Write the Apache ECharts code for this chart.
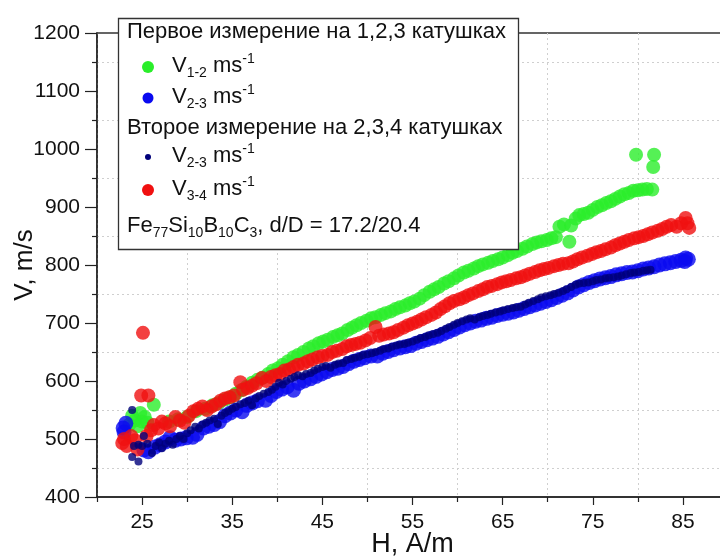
<!DOCTYPE html>
<html>
<head>
<meta charset="utf-8">
<script src="https://cdn.jsdelivr.net/npm/echarts@6/dist/echarts.min.js"></script>
<style>
html,body{margin:0;padding:0;background:#fff;}
#chart{width:720px;height:556px;}
</style>
</head>
<body>
<div id="chart"></div>
<script>
// ---- tick labels ----
var xTickLabels = [25, 35, 45, 55, 65, 75, 85];
var yTickLabels = [400, 500, 600, 700, 800, 900, 1000, 1100, 1200];

// ---- series: first measurement, V1-2 (green) ----
var firstV12 = [
 [23.6,525],[23.9,540],[24.2,532],[24.5,522],[24.8,545],[25.0,530],[25.3,538],[25.6,528],[26.3,559],
 [28.0,530],[29.0,534],[30.0,538],[31.0,548],[32.0,552],[32.8,558],[33.5,562],[34.2,568],[34.8,572],
 [35.4,578],[36.0,584],[36.6,590],[37.2,597],[37.8,602],[38.4,606],[39.0,612],[39.5,618],[40.1,622],
 [40.6,628],[41.2,634],[41.8,641],[42.3,645],[42.9,650],[43.5,656],[44.0,660],[44.6,665],[45.1,668],
 [45.6,671],[46.2,676],[46.7,679],[47.2,682],[47.8,688],[48.3,692],[48.8,696],[49.3,700],[49.9,704],
 [50.4,708],[50.9,710],[51.5,714],[52.0,717],[52.6,720],[53.1,724],[53.6,727],[54.2,730],[54.7,734],
 [55.2,737],[55.8,742],[56.3,748],[56.9,754],[57.4,758],[57.9,762],[58.5,768],[59.0,772],[59.6,777],
 [60.1,782],[60.7,787],[61.2,790],[61.8,794],[62.3,798],[62.8,801],[63.4,804],[63.9,807],[64.5,810],
 [65.0,813],[65.6,817],[66.1,821],[66.6,824],[67.2,828],[67.7,832],[68.3,836],[68.8,839],[69.3,841],
 [69.9,843],[70.4,846],[70.9,848],[71.3,866],[71.8,870],[72.4,840],[72.6,868],[73.1,880],[73.5,886],
 [74.0,888],[74.5,890],[75.0,895],[75.5,900],[76.0,903],[76.5,907],[77.0,910],[77.5,914],[78.0,918],
 [78.5,922],[79.0,924],[79.5,928],[80.0,929],[80.5,930],[81.0,931],[81.6,930],
 [79.8,990],[81.8,990],[81.7,969]
];

// ---- series: first measurement, V2-3 (blue) ----
var firstV23 = [
 [22.9,519],[23.2,527],[23.0,512],[25.2,481],[25.7,478],[26.4,486],[27.0,490],[27.6,495],[28.1,502],
 [28.7,498],[29.3,500],[29.9,502],[30.6,503],[31.1,508],[31.8,519],[32.4,522],[33.0,525],[33.6,530],
 [34.2,540],[34.8,545],[35.4,550],[36.1,547],[36.6,558],[37.2,562],[37.8,566],[38.7,567],[39.3,575],
 [39.9,582],[40.5,586],[41.1,590],[41.8,584],[42.4,596],[43.0,600],[43.7,604],[44.3,608],[44.9,612],
 [45.5,616],[46.1,620],[46.7,622],[47.3,625],[47.9,630],[48.5,634],[49.1,637],[49.7,640],[50.4,643],
 [51.1,643],[51.7,648],[52.3,651],[52.9,654],[53.6,657],[54.2,659],[54.8,661],[55.4,665],[56.0,668],
 [56.6,671],[57.2,674],[57.8,677],[58.4,681],[59.0,685],[59.6,689],[60.2,693],[60.8,697],[61.4,700],
 [62.0,703],[62.6,705],[63.2,708],[63.8,710],[64.4,713],[65.0,715],[65.6,717],[66.2,719],[66.8,722],
 [67.4,725],[68.0,728],[68.6,731],[69.2,734],[69.8,737],[70.4,740],[71.0,744],[71.6,748],[72.2,752],
 [72.8,757],[73.4,762],[74.0,766],[74.6,770],[75.2,773],[75.8,776],[76.4,778],[77.0,780],[77.6,783],
 [78.2,785],[78.8,787],[79.4,788],[80.0,790],[80.6,793],[81.2,795],[81.8,797],[82.4,800],[83.0,802],
 [83.6,804],[84.2,806],[84.8,808],[85.3,812],[85.6,810],[85.2,806]
];

// ---- series: second measurement, V3-4 (red) ----
var secondV34 = [
 [22.8,493],[23.0,500],[23.3,488],[23.8,505],[24.2,498],[24.5,482],[24.9,575],[25.1,683],[25.7,575],
 [25.5,505],[26.0,515],[26.3,524],[26.8,518],[27.2,530],[27.6,527],[28.1,522],[28.7,538],[29.2,532],
 [29.7,528],[30.2,540],[30.7,548],[31.2,552],[31.7,556],[32.2,550],[32.7,556],[33.2,560],[33.7,566],
 [34.2,570],[34.7,572],[35.2,575],[35.9,598],[36.2,585],[36.7,588],[37.2,592],[37.7,596],[38.3,605],
 [38.8,600],[39.3,607],[39.8,610],[40.3,612],[40.8,618],[41.3,620],[41.8,624],[42.3,628],[42.9,630],
 [43.4,634],[43.9,637],[44.5,641],[45.0,643],[45.6,645],[46.1,650],[46.6,652],[47.2,655],[47.7,660],
 [48.2,662],[48.7,664],[49.2,666],[49.8,670],[50.3,674],[50.9,693],[51.3,678],[51.8,680],[52.4,682],
 [52.9,684],[53.4,688],[54.0,692],[54.5,696],[55.0,699],[55.5,702],[56.0,706],[56.5,710],[57.1,714],
 [57.6,718],[58.1,724],[58.6,729],[59.1,734],[59.6,738],[60.2,741],[60.7,744],[61.2,748],[61.7,751],
 [62.3,755],[62.8,758],[63.3,762],[63.8,764],[64.4,767],[64.9,770],[65.4,772],[65.9,774],[66.5,777],
 [67.0,779],[67.5,782],[68.0,785],[68.6,788],[69.1,791],[69.6,793],[70.1,795],[70.7,798],[71.2,800],
 [71.7,802],[72.3,803],[72.8,806],[73.3,810],[73.8,813],[74.4,816],[74.9,819],[75.4,822],[75.9,824],
 [76.4,827],[77.0,830],[77.5,834],[78.0,837],[78.5,840],[79.0,843],[79.6,846],[80.1,848],[80.6,850],
 [81.1,853],[81.6,856],[82.2,859],[82.7,862],[83.2,866],[83.7,869],[84.3,866],[84.8,872],[85.3,881],
 [85.7,864],[85.5,872]
];

// ---- series: second measurement, V2-3 (navy, small) ----
var secondV23 = [
 [23.9,550],[23.9,469],[24.6,461],[24.1,488],[24.6,490],[25.2,505],[25.0,488],[25.6,492],[26.1,476],
 [26.5,488],[26.9,494],[27.2,484],[27.6,492],[28.0,497],[28.4,490],[28.8,500],[29.2,505],[29.6,500],
 [30.0,510],[30.4,515],[30.9,521],[31.3,518],[31.7,525],[32.1,528],[32.5,532],[33.0,535],[33.4,526],
 [33.8,540],[34.2,545],[34.6,548],[35.0,552],[35.4,555],[35.9,560],[36.4,562],[36.8,566],[37.2,558],
 [37.6,570],[38.0,574],[38.5,578],[39.0,581],[39.4,585],[39.8,590],[40.2,597],[40.6,594],[41.0,600],
 [41.5,604],[41.9,607],[42.3,610],[42.8,608],[43.2,612],[43.7,614],[44.1,618],[44.5,621],[45.0,624],
 [45.4,626],[45.9,623],[46.4,628],[46.8,630],[47.3,631],[47.7,636],[48.2,638],[48.6,640],[49.1,642],
 [49.5,645],[50.0,646],[50.5,648],[50.9,650],[51.4,652],[51.8,655],[52.3,656],[52.7,659],[53.2,661],
 [53.6,663],[54.1,664],[54.5,666],[55.0,668],[55.5,671],[55.9,674],[56.4,676],[56.8,679],[57.3,681],
 [57.8,683],[58.2,686],[58.7,690],[59.1,693],[59.6,697],[60.0,700],[60.5,703],[61.0,706],[61.4,708],
 [61.9,706],[62.4,710],[62.8,712],[63.3,714],[63.7,716],[64.2,718],[64.7,720],[65.1,722],[65.6,724],
 [66.1,726],[66.5,727],[67.0,728],[67.5,732],[67.9,735],[68.4,738],[68.9,741],[69.3,744],[69.8,746],
 [70.3,748],[70.7,750],[71.2,752],[71.7,755],[72.1,758],[72.6,762],[73.1,766],[73.5,768],[74.0,769],
 [74.5,770],[75.0,772],[75.4,774],[75.9,775],[76.4,777],[76.8,778],[77.3,779],[77.8,780],[78.2,782],
 [78.7,784],[79.2,786],[79.6,787],[80.1,788],[80.6,790],[81.0,791],[81.4,792]
];

var COL_GREEN = '#2aee2a';
var COL_BLUE = '#0a0af0';
var COL_NAVY = '#00007a';
var COL_RED = '#f01010';
var FONT = "'Liberation Sans',Arial,sans-serif";

var chart = echarts.init(document.getElementById('chart'), null, {renderer: 'canvas'});

var rich = {
  b: {fontSize: 22, fontFamily: FONT, color: '#111', lineHeight: 28, verticalAlign: 'middle'},
  sub: {fontSize: 14, fontFamily: FONT, color: '#111', lineHeight: 14, verticalAlign: 'bottom'},
  sup: {fontSize: 14, fontFamily: FONT, color: '#111', lineHeight: 14, verticalAlign: 'top'}
};

function legendText(x, y, txt) {
  return {type: 'text', left: x, top: y, z: 101,
    style: {text: txt, rich: rich, fill: '#111', font: '22px ' + FONT}};
}
function legendDot(cx, cy, r, color) {
  return {type: 'circle', shape: {cx: cx, cy: cy, r: r}, style: {fill: color}, z: 101};
}

var option = {
  animation: false,
  backgroundColor: '#fff',
  grid: {left: 97, top: 33, width: 631, height: 464, containLabel: false, outerBoundsMode: 'none',
    show: true, borderColor: '#333', borderWidth: 1.5, backgroundColor: 'transparent'},
  xAxis: {
    type: 'value', min: 20, max: 90, interval: 10,
    name: 'H, A/m', nameLocation: 'middle', nameGap: 34, nameMoveOverlap: false,
    nameTextStyle: {fontSize: 27, fontFamily: FONT, color: '#111'},
    axisLine: {show: true, onZero: false, lineStyle: {color: '#222', width: 1.5}},
    axisTick: {show: true, inside: false, length: 5, lineStyle: {color: '#222', width: 1.2}},
    minorTick: {show: true, splitNumber: 2, length: 8, lineStyle: {color: '#222', width: 1.2}},
    axisLabel: {customValues: xTickLabels, fontSize: 21, fontFamily: FONT, color: '#111', margin: 15},
    splitLine: {show: true, lineStyle: {color: '#cfcfcf', type: [2, 3], width: 1}},
    minorSplitLine: {show: false}
  },
  yAxis: {
    type: 'value', min: 400, max: 1200, interval: 100,
    name: 'V, m/s', nameLocation: 'middle', nameGap: 59, nameMoveOverlap: false,
    nameTextStyle: {fontSize: 26, fontFamily: FONT, color: '#111'},
    axisLine: {show: true, onZero: false, lineStyle: {color: '#222', width: 1.5}},
    axisTick: {show: true, inside: false, length: 12, lineStyle: {color: '#222', width: 1.2}},
    minorTick: {show: true, splitNumber: 2, length: 5, lineStyle: {color: '#222', width: 1.2}},
    axisLabel: {customValues: yTickLabels, formatter: function (v) { return String(v); }, fontSize: 21, fontFamily: FONT, color: '#111', margin: 17},
    splitLine: {show: false},
    minorSplitLine: {show: true, lineStyle: {color: '#cfcfcf', type: [2, 3], width: 1}}
  },
  series: [
    {name: 'V1-2 first', type: 'scatter', data: firstV12, symbol: 'circle', symbolSize: 14, itemStyle: {color: COL_GREEN}, z: 2},
    {name: 'V2-3 first', type: 'scatter', data: firstV23, symbol: 'circle', symbolSize: 15, itemStyle: {color: COL_BLUE}, z: 3},
    {name: 'V3-4 second', type: 'scatter', data: secondV34, symbol: 'circle', symbolSize: 14, itemStyle: {color: COL_RED}, z: 4},
    {name: 'V2-3 second', type: 'scatter', data: secondV23, symbol: 'circle', symbolSize: 8, itemStyle: {color: COL_NAVY}, z: 5}
  ],
  graphic: [
    {type: 'rect', shape: {x: 118.5, y: 18.5, width: 400, height: 231}, style: {fill: '#fff', stroke: '#333', lineWidth: 1.3}, z: 100},
    legendText(127, 21, '{b|Первое измерение на 1,2,3 катушках}'),
    legendDot(148, 67, 6, COL_GREEN),
    legendText(172, 52, '{b|V}{sub|1-2}{b| ms}{sup|-1}'),
    legendDot(148, 98, 5.5, COL_BLUE),
    legendText(172, 83, '{b|V}{sub|2-3}{b| ms}{sup|-1}'),
    legendText(127, 117, '{b|Второе измерение на 2,3,4 катушках}'),
    legendDot(148, 157, 3, COL_NAVY),
    legendText(172, 142, '{b|V}{sub|2-3}{b| ms}{sup|-1}'),
    legendDot(148, 190, 6, COL_RED),
    legendText(172, 175, '{b|V}{sub|3-4}{b| ms}{sup|-1}'),
    legendText(127, 215, '{b|Fe}{sub|77}{b|Si}{sub|10}{b|B}{sub|10}{b|C}{sub|3}{b|, d/D = 17.2/20.4}')
  ]
};
chart.setOption(option);
</script>
</body>
</html>
